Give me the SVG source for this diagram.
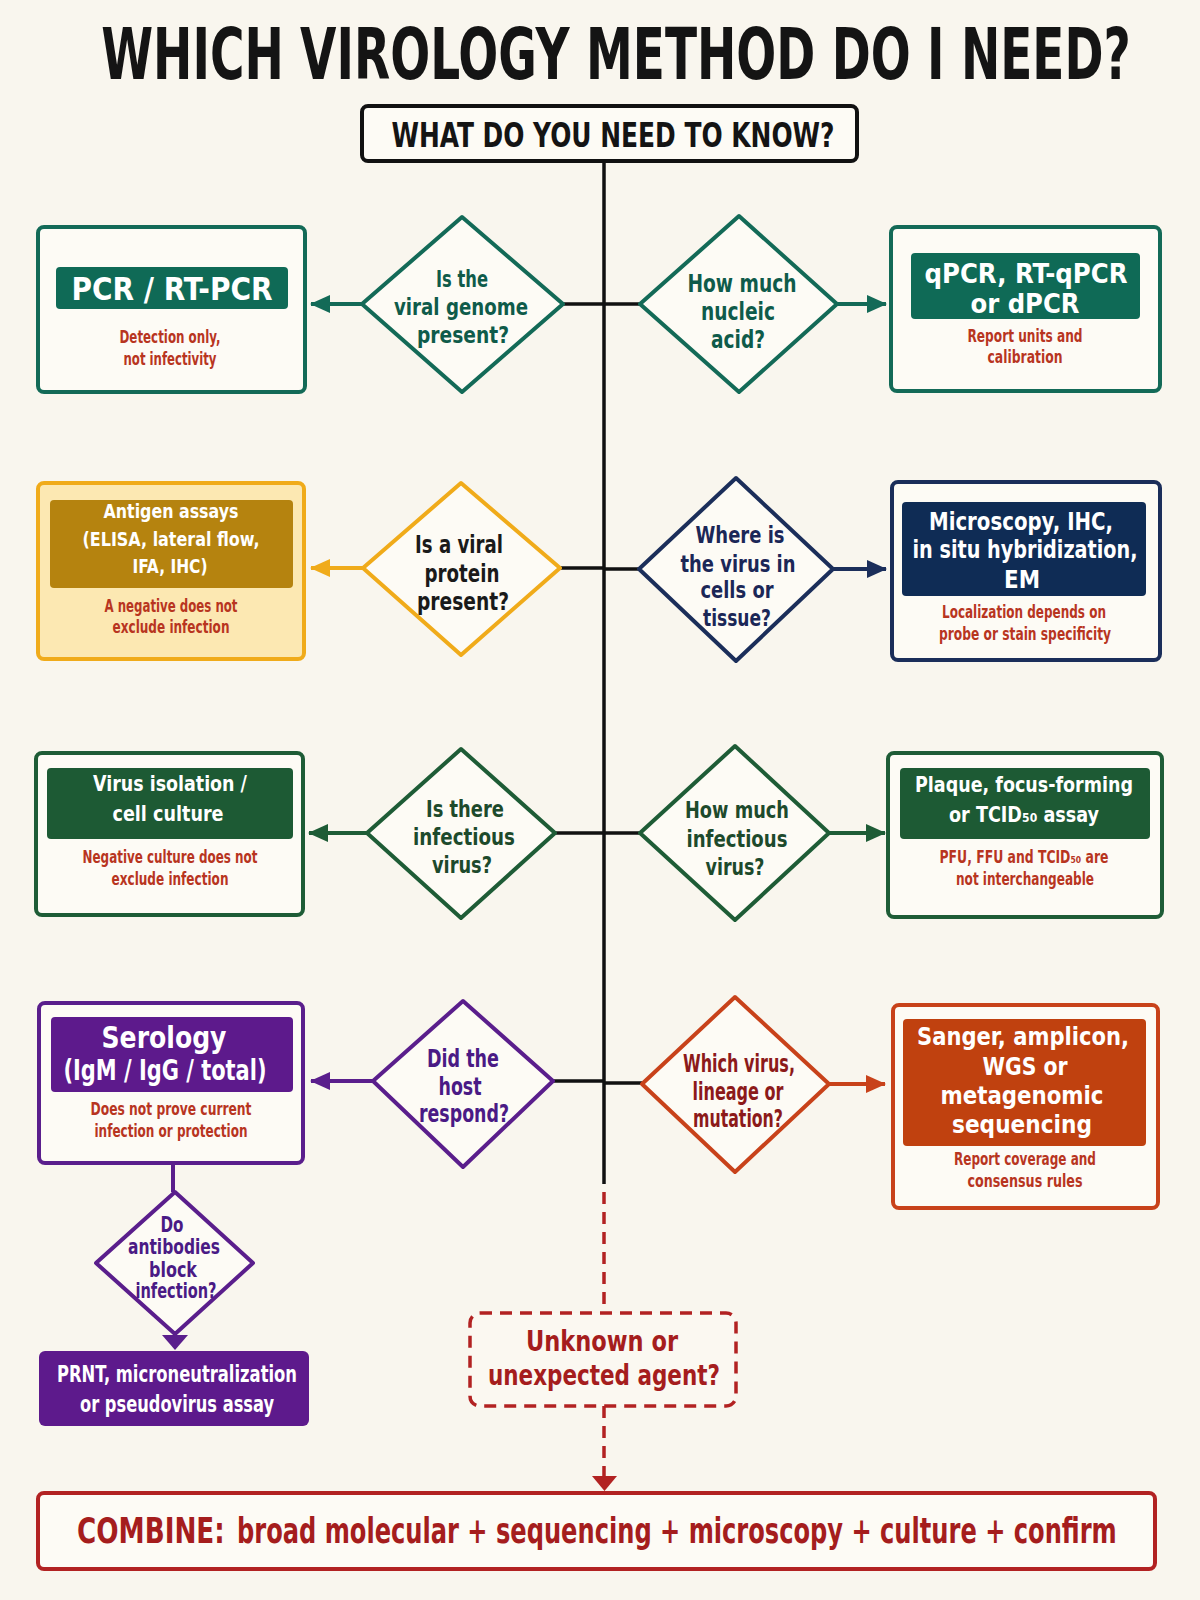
<svg xmlns="http://www.w3.org/2000/svg" width="1200" height="1600" viewBox="0 0 1200 1600">
<style>
text{font-family:'Liberation Sans Narrow','DejaVu Sans Condensed','Liberation Sans',Arial,sans-serif;font-weight:700;text-anchor:middle;font-stretch:condensed}
.box{fill:#fdfbf5;stroke-width:4}
.dia{fill:#fdfbf5;stroke-width:4;stroke-linejoin:round}
.w{fill:#ffffff}
.sub{fill:#b8351f;font-size:17px}
.blk{fill:none;stroke:#111;stroke-width:3.5}
.teal{stroke:#136a57}
.yel{stroke:#f0ab1a}
.navy{stroke:#1b2e5a}
.grn{stroke:#1e5c36}
.pur{stroke:#5a1e8c}
.red{stroke:#c8421a}
.arr{fill:none;stroke-width:4}
</style>
<defs>
<marker id="mTeal" viewBox="0 0 20 18" refX="19" refY="9" markerWidth="20" markerHeight="18" markerUnits="userSpaceOnUse" orient="auto"><path d="M0,0 L20,9 L0,18 z" fill="#136a57"/></marker>
<marker id="mYel" viewBox="0 0 20 18" refX="19" refY="9" markerWidth="20" markerHeight="18" markerUnits="userSpaceOnUse" orient="auto"><path d="M0,0 L20,9 L0,18 z" fill="#f0ab1a"/></marker>
<marker id="mNavy" viewBox="0 0 20 18" refX="19" refY="9" markerWidth="20" markerHeight="18" markerUnits="userSpaceOnUse" orient="auto"><path d="M0,0 L20,9 L0,18 z" fill="#1b2e5a"/></marker>
<marker id="mGrn" viewBox="0 0 20 18" refX="19" refY="9" markerWidth="20" markerHeight="18" markerUnits="userSpaceOnUse" orient="auto"><path d="M0,0 L20,9 L0,18 z" fill="#1e5c36"/></marker>
<marker id="mPur" viewBox="0 0 20 18" refX="19" refY="9" markerWidth="20" markerHeight="18" markerUnits="userSpaceOnUse" orient="auto"><path d="M0,0 L20,9 L0,18 z" fill="#5a1e8c"/></marker>
<marker id="mRed" viewBox="0 0 20 18" refX="19" refY="9" markerWidth="20" markerHeight="18" markerUnits="userSpaceOnUse" orient="auto"><path d="M0,0 L20,9 L0,18 z" fill="#c8421a"/></marker>
</defs>
<rect width="1200" height="1600" fill="#f9f6ee"/>

<g id="connectors">
<path class="blk" d="M604,161 L604,1184" stroke-width="4"/>
<path class="blk" d="M563,304 L604,304 M604,304 L640,304"/>
<path class="blk" d="M560,568 L604,568 M604,569 L639,569"/>
<path class="blk" d="M555,833 L604,833 M604,833 L640,833"/>
<path class="blk" d="M553,1081 L604,1081 M604,1083 L642,1083"/>
<path class="arr teal" d="M362,304 L311,304" marker-end="url(#mTeal)"/>
<path class="arr teal" d="M837,304 L886,304" marker-end="url(#mTeal)"/>
<path class="arr yel" d="M363,568 L311,568" marker-end="url(#mYel)"/>
<path class="arr navy" d="M833,569 L886,569" marker-end="url(#mNavy)"/>
<path class="arr grn" d="M367,833 L309,833" marker-end="url(#mGrn)"/>
<path class="arr grn" d="M829,833 L885,833" marker-end="url(#mGrn)"/>
<path class="arr pur" d="M373,1081 L311,1081" marker-end="url(#mPur)"/>
<path class="arr red" d="M829,1084 L885,1084" marker-end="url(#mRed)"/>
<path class="arr pur" d="M173,1163 L173,1192"/>
<polygon points="162,1335 188,1335 175,1350" fill="#5a1e8c"/>
<path d="M604,1192 L604,1313" fill="none" stroke="#b22222" stroke-width="3.5" stroke-dasharray="12 8"/>
<path d="M604,1406 L604,1476" fill="none" stroke="#b22222" stroke-width="3.5" stroke-dasharray="12 8"/>
<polygon points="592,1476 617,1476 604.5,1491" fill="#b22222"/>
</g>

<g id="title"><text transform="translate(616,79) scale(0.72,1)" x="0" y="0" font-size="72" textLength="1430" lengthAdjust="spacingAndGlyphs" fill="#141414" font-weight="900">WHICH VIROLOGY METHOD DO I NEED?</text></g>

<g id="start">
<rect x="362" y="106" width="495" height="55" rx="6" fill="#fdfbf5" stroke="#111" stroke-width="4"/>
<text x="613" y="147" font-size="33" textLength="443" lengthAdjust="spacingAndGlyphs" fill="#141414">WHAT DO YOU NEED TO KNOW?</text>
</g>

<g id="pcr">
<rect class="box teal" x="38" y="227" width="267" height="165" rx="6"/>
<rect x="56" y="267" width="232" height="42" rx="4" fill="#0f6a56"/>
<text class="w" x="172" y="300" font-size="32" textLength="201" lengthAdjust="spacingAndGlyphs">PCR / RT-PCR</text>
<text class="sub" x="170" y="343" textLength="101" lengthAdjust="spacingAndGlyphs">Detection only,</text>
<text class="sub" x="170" y="365" textLength="93" lengthAdjust="spacingAndGlyphs">not infectivity</text>
</g>

<g id="q-genome">
<polygon class="dia teal" points="462,217 563,304 462,392 362,304"/>
<g fill="#0f5b4a" font-size="23">
<text x="462" y="287" textLength="52" lengthAdjust="spacingAndGlyphs">Is the</text>
<text x="461" y="315" textLength="134" lengthAdjust="spacingAndGlyphs">viral genome</text>
<text x="463" y="343" textLength="92" lengthAdjust="spacingAndGlyphs">present?</text>
</g>
</g>

<g id="q-nucleic">
<polygon class="dia teal" points="739,216 837,304 739,392 640,304"/>
<g fill="#0f5b4a" font-size="24">
<text x="742" y="292" textLength="109" lengthAdjust="spacingAndGlyphs">How much</text>
<text x="738" y="320" textLength="74" lengthAdjust="spacingAndGlyphs">nucleic</text>
<text x="738" y="348" textLength="54" lengthAdjust="spacingAndGlyphs">acid?</text>
</g>
</g>

<g id="qpcr">
<rect class="box teal" x="891" y="227" width="269" height="164" rx="6"/>
<rect x="911" y="253" width="229" height="66" rx="4" fill="#0f6a56"/>
<text class="w" x="1026" y="283" font-size="27" textLength="203" lengthAdjust="spacingAndGlyphs">qPCR, RT-qPCR</text>
<text class="w" x="1025" y="313" font-size="27" textLength="109" lengthAdjust="spacingAndGlyphs">or dPCR</text>
<text class="sub" x="1025" y="342" textLength="115" lengthAdjust="spacingAndGlyphs">Report units and</text>
<text class="sub" x="1025" y="363" textLength="75" lengthAdjust="spacingAndGlyphs">calibration</text>
</g>

<g id="antigen">
<rect x="38" y="483" width="266" height="176" rx="6" fill="#fce8b2" stroke="#f0ab1a" stroke-width="4"/>
<rect x="50" y="500" width="243" height="88" rx="4" fill="#b5830f"/>
<text class="w" x="171" y="518" font-size="20" textLength="135" lengthAdjust="spacingAndGlyphs">Antigen assays</text>
<text class="w" x="171" y="546" font-size="20" textLength="177" lengthAdjust="spacingAndGlyphs">(ELISA, lateral flow,</text>
<text class="w" x="170" y="573" font-size="20" textLength="75" lengthAdjust="spacingAndGlyphs">IFA, IHC)</text>
<text class="sub" x="171" y="612" textLength="133" lengthAdjust="spacingAndGlyphs">A negative does not</text>
<text class="sub" x="171" y="633" textLength="117" lengthAdjust="spacingAndGlyphs">exclude infection</text>
</g>

<g id="q-protein">
<polygon class="dia yel" points="461,483 560,568 461,655 363,568"/>
<g fill="#1a1a1a" font-size="25">
<text x="459" y="553" textLength="88" lengthAdjust="spacingAndGlyphs">Is a viral</text>
<text x="462" y="582" textLength="75" lengthAdjust="spacingAndGlyphs">protein</text>
<text x="463" y="610" textLength="92" lengthAdjust="spacingAndGlyphs">present?</text>
</g>
</g>

<g id="q-where">
<polygon class="dia navy" points="736,478 833,569 736,661 639,569"/>
<g fill="#1b2757" font-size="23">
<text x="740" y="543" textLength="89" lengthAdjust="spacingAndGlyphs">Where is</text>
<text x="738" y="572" textLength="115" lengthAdjust="spacingAndGlyphs">the virus in</text>
<text x="737" y="598" textLength="73" lengthAdjust="spacingAndGlyphs">cells or</text>
<text x="737" y="626" textLength="68" lengthAdjust="spacingAndGlyphs">tissue?</text>
</g>
</g>

<g id="microscopy">
<rect class="box navy" x="892" y="482" width="268" height="178" rx="6"/>
<rect x="902" y="502" width="244" height="94" rx="4" fill="#0f2c55"/>
<text class="w" x="1021" y="530" font-size="25" textLength="184" lengthAdjust="spacingAndGlyphs">Microscopy, IHC,</text>
<text class="w" x="1025" y="558" font-size="25" textLength="225" lengthAdjust="spacingAndGlyphs">in situ hybridization,</text>
<text class="w" x="1022" y="588" font-size="25" textLength="36" lengthAdjust="spacingAndGlyphs">EM</text>
<text class="sub" x="1024" y="618" textLength="164" lengthAdjust="spacingAndGlyphs">Localization depends on</text>
<text class="sub" x="1025" y="640" textLength="172" lengthAdjust="spacingAndGlyphs">probe or stain specificity</text>
</g>

<g id="isolation">
<rect class="box grn" x="36" y="753" width="267" height="162" rx="6" stroke-width="3.5"/>
<rect x="47" y="768" width="246" height="71" rx="4" fill="#1d5a34"/>
<text class="w" x="170" y="791" font-size="22" textLength="154" lengthAdjust="spacingAndGlyphs">Virus isolation /</text>
<text class="w" x="168" y="821" font-size="22" textLength="111" lengthAdjust="spacingAndGlyphs">cell culture</text>
<text class="sub" x="170" y="863" textLength="175" lengthAdjust="spacingAndGlyphs">Negative culture does not</text>
<text class="sub" x="170" y="885" textLength="117" lengthAdjust="spacingAndGlyphs">exclude infection</text>
</g>

<g id="q-infectious">
<polygon class="dia grn" points="461,749 555,833 461,918 367,833"/>
<g fill="#1d4a2c" font-size="23">
<text x="465" y="817" textLength="78" lengthAdjust="spacingAndGlyphs">Is there</text>
<text x="464" y="845" textLength="102" lengthAdjust="spacingAndGlyphs">infectious</text>
<text x="462" y="873" textLength="60" lengthAdjust="spacingAndGlyphs">virus?</text>
</g>
</g>

<g id="q-howmuch-inf">
<polygon class="dia grn" points="735,746 829,833 735,920 640,833"/>
<g fill="#1d4a2c" font-size="23">
<text x="737" y="818" textLength="104" lengthAdjust="spacingAndGlyphs">How much</text>
<text x="737" y="847" textLength="101" lengthAdjust="spacingAndGlyphs">infectious</text>
<text x="735" y="875" textLength="59" lengthAdjust="spacingAndGlyphs">virus?</text>
</g>
</g>

<g id="plaque">
<rect class="box grn" x="888" y="753" width="274" height="164" rx="6" stroke-width="3.5"/>
<rect x="900" y="768" width="250" height="71" rx="4" fill="#1d5a34"/>
<text class="w" x="1024" y="792" font-size="22" textLength="218" lengthAdjust="spacingAndGlyphs">Plaque, focus-forming</text>
<text class="w" x="1024" y="822" font-size="22" textLength="150" lengthAdjust="spacingAndGlyphs">or TCID₅₀ assay</text>
<text class="sub" x="1024" y="863" textLength="169" lengthAdjust="spacingAndGlyphs">PFU, FFU and TCID₅₀ are</text>
<text class="sub" x="1025" y="885" textLength="138" lengthAdjust="spacingAndGlyphs">not interchangeable</text>
</g>

<g id="serology">
<rect class="box pur" x="39" y="1003" width="264" height="160" rx="6" stroke-width="3.5"/>
<rect x="51" y="1017" width="242" height="75" rx="4" fill="#5d1a8c"/>
<text class="w" x="164" y="1048" font-size="31" textLength="125" lengthAdjust="spacingAndGlyphs">Serology</text>
<text class="w" x="165" y="1080" font-size="28" textLength="203" lengthAdjust="spacingAndGlyphs">(IgM / IgG / total)</text>
<text class="sub" x="171" y="1115" textLength="161" lengthAdjust="spacingAndGlyphs" fill="#b0401e">Does not prove current</text>
<text class="sub" x="171" y="1137" textLength="153" lengthAdjust="spacingAndGlyphs" fill="#b0401e">infection or protection</text>
</g>

<g id="q-host">
<polygon class="dia pur" points="463,1001 553,1081 463,1167 373,1081"/>
<g fill="#4a1a85" font-size="24">
<text x="463" y="1067" textLength="72" lengthAdjust="spacingAndGlyphs">Did the</text>
<text x="460" y="1095" textLength="43" lengthAdjust="spacingAndGlyphs">host</text>
<text x="464" y="1122" textLength="90" lengthAdjust="spacingAndGlyphs">respond?</text>
</g>
</g>

<g id="q-lineage">
<polygon class="dia red" points="735,997 829,1084 735,1172 642,1084"/>
<g fill="#8c1a1a" font-size="24">
<text x="739" y="1072" textLength="112" lengthAdjust="spacingAndGlyphs">Which virus,</text>
<text x="738" y="1100" textLength="91" lengthAdjust="spacingAndGlyphs">lineage or</text>
<text x="738" y="1127" textLength="90" lengthAdjust="spacingAndGlyphs">mutation?</text>
</g>
</g>

<g id="sequencing">
<rect class="box red" x="893" y="1005" width="265" height="203" rx="6" stroke-width="3"/>
<rect x="903" y="1019" width="243" height="127" rx="4" fill="#c0410f"/>
<text class="w" x="1023" y="1045" font-size="25" textLength="212" lengthAdjust="spacingAndGlyphs">Sanger, amplicon,</text>
<text class="w" x="1025" y="1075" font-size="25" textLength="85" lengthAdjust="spacingAndGlyphs">WGS or</text>
<text class="w" x="1022" y="1104" font-size="25" textLength="163" lengthAdjust="spacingAndGlyphs">metagenomic</text>
<text class="w" x="1022" y="1133" font-size="25" textLength="140" lengthAdjust="spacingAndGlyphs">sequencing</text>
<text class="sub" x="1025" y="1165" textLength="142" lengthAdjust="spacingAndGlyphs">Report coverage and</text>
<text class="sub" x="1025" y="1187" textLength="115" lengthAdjust="spacingAndGlyphs">consensus rules</text>
</g>

<g id="q-block">
<polygon class="dia pur" points="175,1192 253,1263 175,1334 96,1263" stroke-width="3.5"/>
<g fill="#4a1a85" font-size="21">
<text x="172" y="1232" textLength="23" lengthAdjust="spacingAndGlyphs">Do</text>
<text x="174" y="1254" textLength="92" lengthAdjust="spacingAndGlyphs">antibodies</text>
<text x="173" y="1277" textLength="48" lengthAdjust="spacingAndGlyphs">block</text>
<text x="176" y="1298" textLength="81" lengthAdjust="spacingAndGlyphs">infection?</text>
</g>
</g>

<g id="neutralization">
<rect x="39" y="1351" width="270" height="75" rx="6" fill="#5d1a8c"/>
<text class="w" x="177" y="1382" font-size="23" textLength="240" lengthAdjust="spacingAndGlyphs">PRNT, microneutralization</text>
<text class="w" x="177" y="1412" font-size="23" textLength="194" lengthAdjust="spacingAndGlyphs">or pseudovirus assay</text>
</g>

<g id="unknown">
<rect x="470" y="1313" width="266" height="93" rx="10" fill="#fbf8f1" stroke="#b22222" stroke-width="3.5" stroke-dasharray="12 8"/>
<text x="602" y="1351" font-size="29" textLength="152" lengthAdjust="spacingAndGlyphs" fill="#a51d1d">Unknown or</text>
<text x="604" y="1385" font-size="29" textLength="232" lengthAdjust="spacingAndGlyphs" fill="#a51d1d">unexpected agent?</text>
</g>

<g id="combine">
<rect x="38" y="1493" width="1117" height="76" rx="6" fill="#fdfbf5" stroke="#b22222" stroke-width="4"/>
<text transform="translate(77,1543) scale(0.75,1)" x="0" y="0" font-size="36" textLength="197" lengthAdjust="spacingAndGlyphs" fill="#a51d1d" font-weight="900" style="text-anchor:start">COMBINE:</text>
<text transform="translate(237,1543) scale(0.75,1)" x="0" y="0" font-size="36" textLength="1173" lengthAdjust="spacingAndGlyphs" fill="#a51d1d" style="text-anchor:start">broad molecular + sequencing + microscopy + culture + confirm</text>
</g>
</svg>
